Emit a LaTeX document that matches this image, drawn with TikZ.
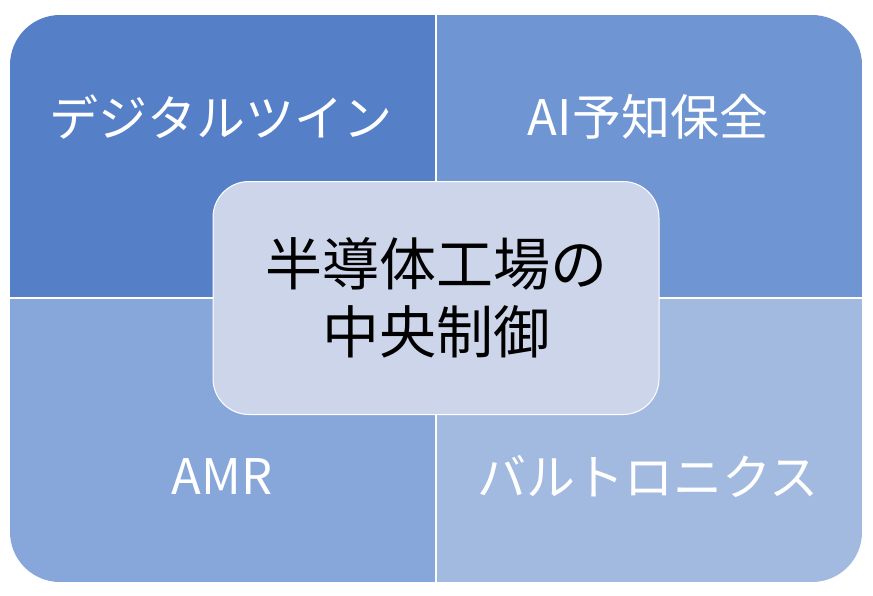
\documentclass[tikz,border=0pt]{standalone}
\usepackage{fontspec}
\setmainfont{Noto Sans CJK JP}
\definecolor{quadTL}{HTML}{5580C8}
\definecolor{quadTR}{HTML}{6F95D2}
\definecolor{quadBL}{HTML}{87A6DA}
\definecolor{quadBR}{HTML}{A2B9E0}
\definecolor{hubfill}{HTML}{CDD5EA}
\begin{document}
\begin{tikzpicture}[
			x=1pt, y=-1pt,
			quadlabel/.style = {text=white, font=\fontsize{49}{55}\selectfont},
			hub/.style = {draw=white, line width=1pt, fill=hubfill, rounded corners=36pt,
					minimum width=446pt, minimum height=233pt, align=center,
					font=\fontsize{57}{68}\selectfont},
		]
		\path[use as bounding box] (0,0) rectangle (873,595);
		\begin{scope}
			\clip[rounded corners=50pt] (10,15) rectangle (862,582);
			\fill[quadTL] (10,15) rectangle (436,298);
			\fill[quadTR] (436,15) rectangle (862,298);
			\fill[quadBL] (10,298) rectangle (436,582);
			\fill[quadBR] (436,298) rectangle (862,582);
			\draw[white, line width=1.5pt] (436,15) -- (436,582);
			\draw[white, line width=1.5pt] (10,298) -- (862,298);
		\end{scope}
		\node[quadlabel] (twin) at (221,117) {デジタルツイン};
		\node[quadlabel] (aipm) at (648,117) {AI予知保全};
		\node[quadlabel] (amr) at (222,477) {AMR};
		\node[quadlabel] (baltro) at (648,477) {バルトロニクス};
		\node[hub] (center) at (436,298) {半導体工場の\\中央制御};
	\end{tikzpicture}
\end{document}
